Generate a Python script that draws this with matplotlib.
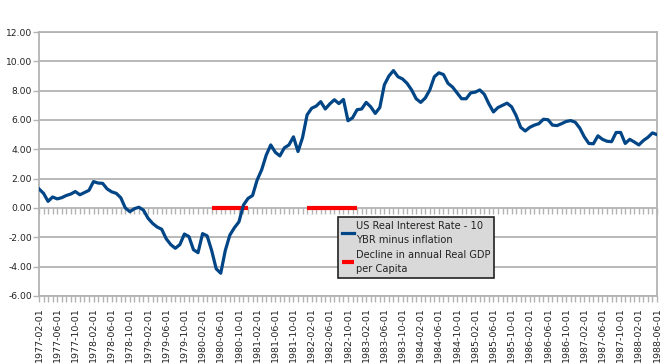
import matplotlib
matplotlib.use('Agg')
import matplotlib.pyplot as plt
import numpy as np
import pandas as pd

# monthly US real interest rate (10y bond yield minus inflation), Feb 1977 - Jun 1988
real_rate = [
    1.30, 1.00, 0.45, 0.75, 0.62, 0.70, 0.85, 0.95, 1.12, 0.90,
    1.05, 1.20, 1.80, 1.70, 1.68, 1.30, 1.10, 1.00, 0.70, 0.00,
    -0.25, -0.05, 0.05, -0.15, -0.70, -1.05, -1.30, -1.45, -2.10, -2.50,
    -2.75, -2.50, -1.78, -1.95, -2.85, -3.05, -1.75, -1.90, -2.90, -4.15,
    -4.45, -2.90, -1.85, -1.35, -0.95, 0.20, 0.65, 0.85, 1.90, 2.60,
    3.60, 4.30, 3.80, 3.55, 4.10, 4.30, 4.85, 3.85, 4.80, 6.35,
    6.80, 6.95, 7.25, 6.75, 7.10, 7.38, 7.12, 7.40, 5.95, 6.15,
    6.70, 6.75, 7.20, 6.90, 6.45, 6.85, 8.40, 9.00, 9.37, 8.95,
    8.80, 8.50, 8.05, 7.45, 7.20, 7.50, 8.05, 8.95, 9.22, 9.10,
    8.50, 8.25, 7.85, 7.45, 7.45, 7.85, 7.90, 8.05, 7.75, 7.10,
    6.55, 6.85, 7.00, 7.15, 6.90, 6.30, 5.50, 5.25, 5.50, 5.65,
    5.75, 6.05, 6.02, 5.65, 5.62, 5.75, 5.90, 5.96, 5.85, 5.45,
    4.85, 4.40, 4.38, 4.92, 4.68, 4.55, 4.52, 5.15, 5.15, 4.40,
    4.68, 4.50, 4.30, 4.60, 4.82, 5.12, 5.00,
]
dates = pd.date_range('1977-02-01', periods=len(real_rate), freq='MS')

# months with a decline in annual real GDP per capita
decline_periods = [('1980-04-01', '1980-12-01'), ('1982-01-01', '1982-12-01')]

decline = np.full(len(dates), np.nan)
for start, end in decline_periods:
    decline[(dates >= start) & (dates <= end)] = 0.0

x = np.arange(len(dates))
labels = [d.strftime('%Y-%m-%d') if i % 4 == 0 else '' for i, d in enumerate(dates)]

grid_c = '#b3b3b3'
text_c = '#222222'

fig = plt.figure(figsize=(6.65, 3.64), dpi=100)
ax = fig.add_axes([0.0586, 0.187, 0.9294, 0.725])

ax.plot(x, decline, color='#ff0000', linewidth=3.0, solid_capstyle='butt', zorder=2,
        label='Decline in annual Real GDP\nper Capita')
ax.plot(x, real_rate, color='#004586', linewidth=2.3, zorder=3,
        label='US Real Interest Rate - 10\nYBR minus inflation')

ax.set_xlim(0, len(dates) - 1)
ax.set_ylim(-6, 12)
ax.set_yticks(np.arange(-6, 12.1, 2))
ax.set_yticklabels(['%.2f' % v for v in np.arange(-6, 12.1, 2)])
ax.set_xticks(x)
ax.set_xticklabels(labels, rotation=90)

ax.grid(axis='y', color=grid_c, linewidth=1.3)
ax.set_axisbelow(True)
for s in ax.spines.values():
    s.set_color(grid_c)
    s.set_linewidth(1.3)
ax.tick_params(axis='x', direction='out', length=4, width=1, color=grid_c,
               labelsize=6.8, labelcolor=text_c, pad=4)
ax.tick_params(axis='y', direction='out', length=4, width=1, color=grid_c,
               labelsize=6.6, labelcolor=text_c, pad=1)

# month ticks along the zero line
sec = ax.secondary_xaxis(0, transform=ax.transData)
sec.set_alignment('bottom')
sec.set_xticks(x)
sec.tick_params(direction='out', length=4, width=1, color=grid_c, labelbottom=False)
sec.spines['bottom'].set_visible(False)

handles, lbls = ax.get_legend_handles_labels()
leg = ax.legend(handles[::-1], lbls[::-1], loc='upper left', bbox_to_anchor=(0.484, 0.299),
                fontsize=7.1, frameon=True, fancybox=False, handlelength=1.25,
                handletextpad=0.15, borderpad=0.4, labelspacing=0.55,
                borderaxespad=0)
leg.get_frame().set_facecolor('#d9d9d9')
leg.get_frame().set_edgecolor('#222222')
leg.get_frame().set_linewidth(1.2)
leg.get_frame().set_alpha(1)
for t in leg.get_texts():
    t.set_color(text_c)
    t.set_linespacing(1.45)

fig.savefig('out.png', dpi=100)
